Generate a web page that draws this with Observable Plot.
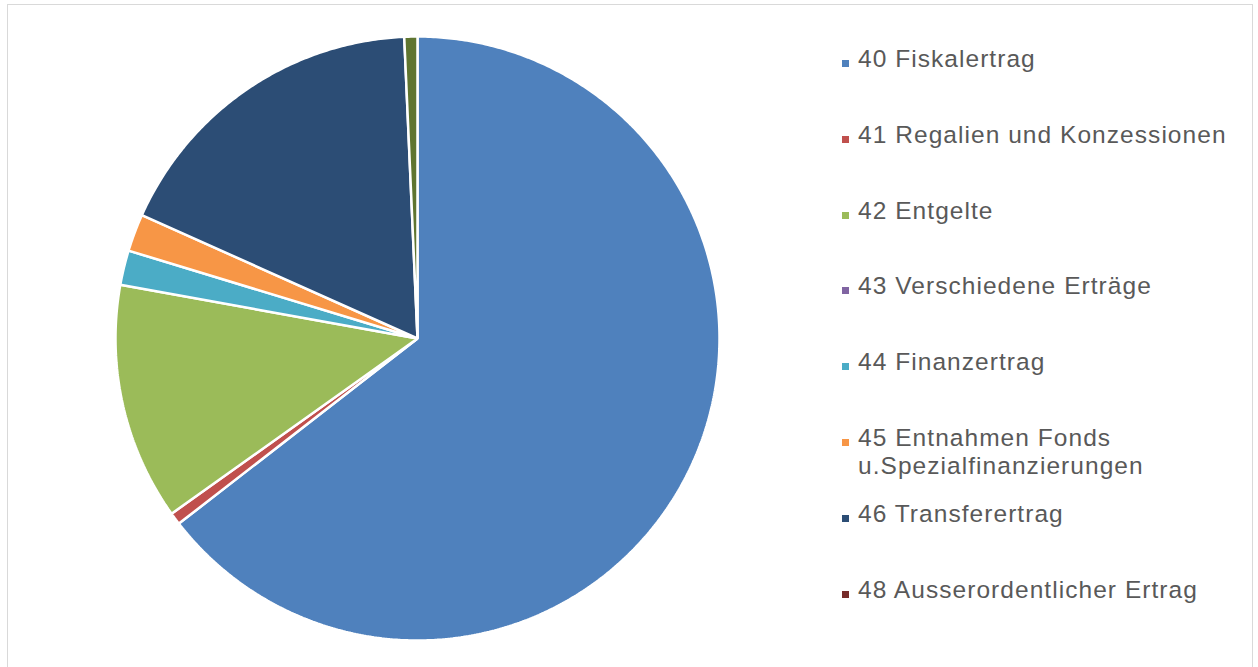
<!DOCTYPE html>
<html>
<head>
<meta charset="utf-8">
<script src="https://cdn.jsdelivr.net/npm/d3@7"></script>
<script src="https://cdn.jsdelivr.net/npm/@observablehq/plot@0.6"></script>
<style>
  html, body { margin: 0; padding: 0; background: #fff; }
  #wrap { position: relative; width: 1258px; height: 667px; overflow: hidden; }
  #frame { position: absolute; left: 7px; top: 4px; width: 1246px; height: 700px; border: 1px solid #D9D9D9; box-sizing: border-box; pointer-events: none; }
  #chart { position: absolute; left: 0; top: 0; }
  .item { position: absolute; left: 842px; width: 410px; display: flex; align-items: flex-start; font-family: "Liberation Sans", Arial, sans-serif; font-size: 24.5px; letter-spacing: 1.05px; color: #595959; line-height: 28px; }
  .sw { width: 7px; height: 7px; margin-top: 15px; flex: none; }
  .lab { margin-left: 9px; width: 395px; }
</style>
</head>
<body>
<div id="wrap">
  <div id="chart"></div>
  <div id="frame"></div>
</div>
<script>
const categories = [
  "40 Fiskalertrag",
  "41 Regalien und Konzessionen",
  "42 Entgelte",
  "43 Verschiedene Erträge",
  "44 Finanzertrag",
  "45 Entnahmen Fonds u.Spezialfinanzierungen",
  "46 Transferertrag",
  "48 Ausserordentlicher Ertrag",
  "49 Interne Verrechnungen"
];
const shares = [64.5, 0.65, 12.7, 0, 1.85, 2.0, 17.6, 0, 0.7];
const colors = ["#4F81BD", "#C0504D", "#9BBB59", "#8064A2", "#4BACC6", "#F79646", "#2C4D75", "#772C2A", "#5F7530"];
const legendCount = 8; // the legend lists the first eight categories

const data = categories.map((c, i) => ({key: c, value: shares[i]}));
const arcs = d3.pie().sort(null).value(d => d.value)(data);

const points = [];
for (const a of arcs) {
  if (a.data.value <= 0) continue;
  points.push({key: a.data.key, x: 0, y: 0});
  const n = Math.max(2, Math.ceil((a.endAngle - a.startAngle) / (Math.PI / 360)));
  for (let k = 0; k <= n; k++) {
    const t = a.startAngle + (a.endAngle - a.startAngle) * k / n;
    points.push({key: a.data.key, x: Math.sin(t), y: Math.cos(t)});
  }
}

const chart = Plot.plot({
  width: 1258,
  height: 667,
  style: {background: "transparent"},
  x: {domain: [-1, 1], range: [115, 719], axis: null},
  y: {domain: [-1, 1], range: [640, 36], axis: null},
  color: {domain: categories, range: colors},
  marks: [
    Plot.line(points, {x: "x", y: "y", z: "key", fill: "key", stroke: "white", strokeWidth: 2.5, strokeLinejoin: "miter", curve: "linear-closed"})
  ]
});
document.getElementById("chart").appendChild(chart);

const wrap = document.getElementById("wrap");
categories.slice(0, legendCount).forEach((c, i) => {
  const item = document.createElement("div");
  item.className = "item";
  item.style.top = (45 + i * 75.8) + "px";
  const sw = document.createElement("div");
  sw.className = "sw";
  sw.style.background = colors[i];
  const lab = document.createElement("div");
  lab.className = "lab";
  lab.textContent = c;
  item.appendChild(sw);
  item.appendChild(lab);
  wrap.appendChild(item);
});
</script>
</body>
</html>
